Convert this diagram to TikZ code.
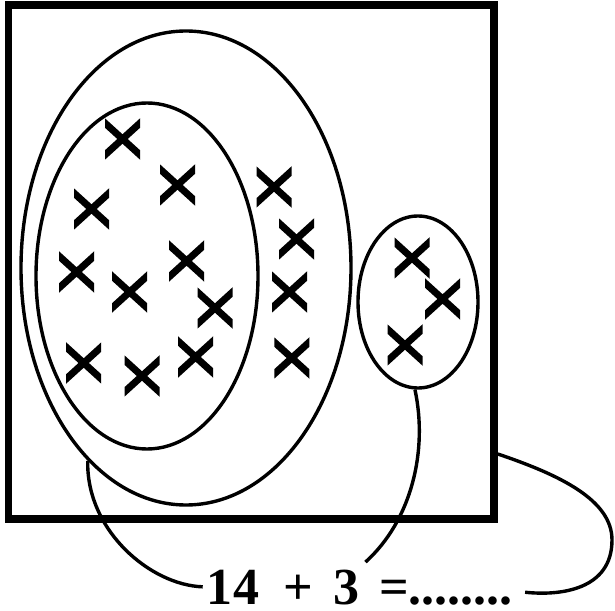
\documentclass[tikz,border=0pt]{standalone}
\usepackage{fontspec}
\setmainfont{Liberation Serif}
\usetikzlibrary{shapes.geometric, calc}

\begin{document}
\begin{tikzpicture}[x=0.25mm, y=-0.25mm,
                outerbox/.style={draw=black, line width=1.9mm, rectangle, minimum width=121.35mm, minimum height=128.5mm, inner sep=0pt},
                group/.style={draw=black, line width=0.85mm, ellipse, inner sep=0pt},
                link/.style={line width=0.85mm},
                sumpart/.style={font=\fontsize{37}{40}\selectfont\bfseries, anchor=base, inner sep=1mm},
                pics/cross/.style={code={
                    \clip (-17.5,-25) rectangle (17.5,25);
                    \draw[line width=1.75mm] (-22,-20) -- (22,20) (-22,20) -- (22,-20);
                }}
            ]
            \useasboundingbox (0,0) rectangle (615,611);

            % Kreuze
            \foreach \x/\y in {122.5/139, 177.5/185, 91.5/209, 76.6/272, 186.6/261, 129.6/292, 215/308, 83.7/363, 142/376, 195.6/357,
                               274/187, 296.5/239, 289.5/292, 291.8/358,
                               412/258, 442.6/299, 405/345}
                \pic at (\x,\y) {cross};

            % Mengen
            \node[outerbox] (outer) at (251.3,262) {};
            \node[group, minimum width=82.5mm, minimum height=118.5mm] (big) at (186,268) {};
            \node[group, minimum width=55.5mm, minimum height=86.5mm] (inner) at (147,276) {};
            \node[group, minimum width=30mm, minimum height=43mm] (small) at (418,302) {};

            % Rechnung
            \node[sumpart] (n14) at (233,604) {14};
            \node[sumpart] (plus) at (298,604) {+};
            \node[sumpart] (n3) at (347,604) {3};
            \node[sumpart] (eq) at (446,604) {=........};

            % Verbindungen
            \coordinate (edge) at ([yshift=-48mm]outer.east);
            \draw[link] (big.243) .. controls (86,530) and (150,585) .. (n14.west);
            \draw[link] (small.268) .. controls (428,450) and (412,520) .. ([shift={(0.3mm,0.8mm)}]n3.north east);
            \draw[link] (edge) .. controls (560,475) and (612,500) .. (612,540)
                               .. controls (612,590) and (560,596) .. ([xshift=2mm]eq.east);

\end{tikzpicture}
\end{document}
